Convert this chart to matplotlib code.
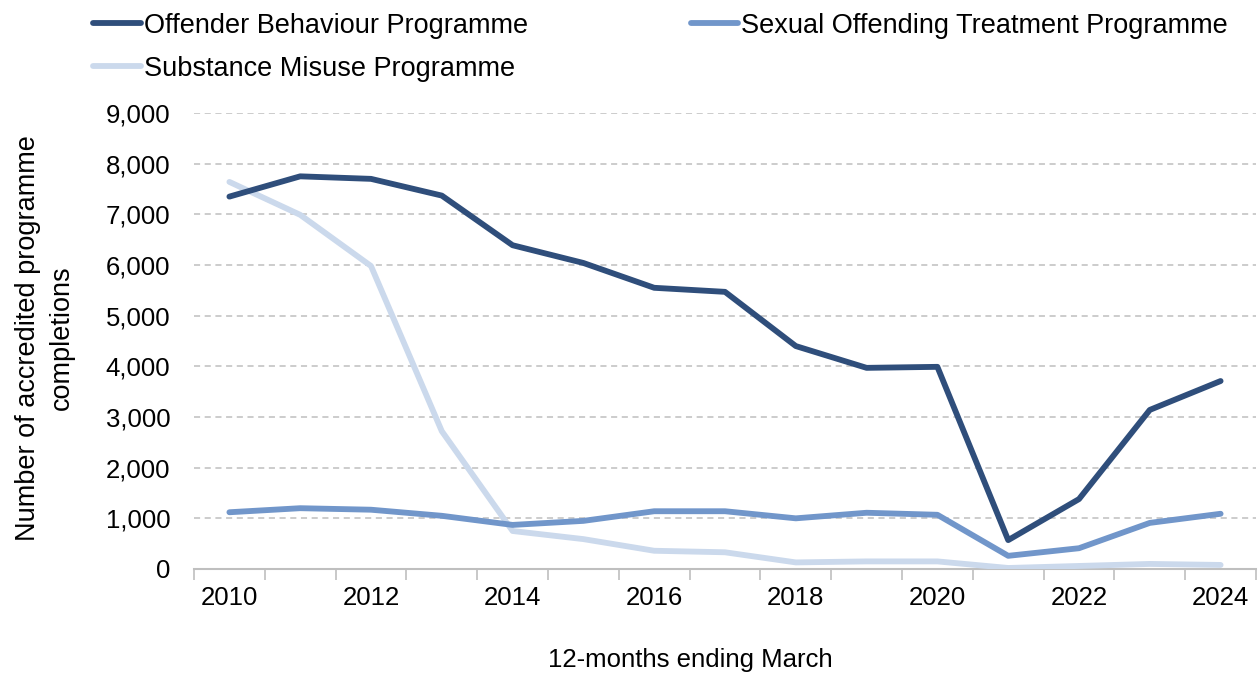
import numpy as np
import matplotlib.pyplot as plt
from matplotlib.ticker import FuncFormatter

plt.rcParams["font.family"] = ["Liberation Sans", "DejaVu Sans"]

years = list(range(2010, 2025))
offender = [7350, 7750, 7700, 7370, 6390, 6040, 5550, 5470, 4400, 3970, 3990, 570, 1380, 3140, 3710]
sexual = [1120, 1200, 1170, 1050, 870, 950, 1140, 1140, 1000, 1110, 1070, 260, 410, 910, 1090]
substance = [7640, 6990, 5980, 2720, 750, 590, 360, 330, 130, 150, 150, 20, 60, 100, 80]

dark = "#2F4E7B"
mid = "#7196CA"
light = "#CBD9EC"
FS = 18.5

fig = plt.figure(figsize=(12.58, 6.77), dpi=100)
ax = fig.add_axes([194 / 1258, 1 - 569 / 677, (1256 - 194) / 1258, (569 - 113) / 677])

l_off, = ax.plot(years, offender, color=dark, lw=4.2, solid_capstyle="round",
                 label="Offender Behaviour Programme", zorder=4)
l_sex, = ax.plot(years, sexual, color=mid, lw=4.2, solid_capstyle="round",
                 label="Sexual Offending Treatment Programme", zorder=3)
l_sub, = ax.plot(years, substance, color=light, lw=4.2, solid_capstyle="round",
                 label="Substance Misuse Programme", zorder=2)

ax.set_xlim(2009.5, 2024.5)
ax.set_ylim(0, 9000)
ax.set_yticks(np.arange(0, 9001, 1000))
ax.yaxis.set_major_formatter(FuncFormatter(lambda v, p: f"{int(v):,}"))
ax.set_xticks(years[::2])
ax.set_xticks(np.arange(2009.5, 2025, 1), minor=True)
ax.tick_params(axis="x", which="major", length=0, labelsize=FS, pad=12)
ax.tick_params(axis="x", which="minor", length=8, color="#BFBFBF", width=1.2)
ax.tick_params(axis="y", length=0, labelsize=FS, pad=17)

ax.grid(axis="y", color="#BFBFBF", linestyle=(0, (4, 3)), lw=1.1)
ax.set_axisbelow(True)
for s in ["top", "right", "left"]:
    ax.spines[s].set_visible(False)
ax.spines["bottom"].set_color("#BFBFBF")
ax.spines["bottom"].set_linewidth(1.5)
ax.spines["bottom"].set_zorder(1)

fig.text(45 / 1258, 1 - 338 / 677, "Number of accredited programme\ncompletions",
         rotation=90, ha="center", va="center", fontsize=19.5, linespacing=1.4)
fig.text(690 / 1258, 1 - 660 / 677, "12-months ending March", ha="center", va="center", fontsize=FS)

fig.legend([l_off, l_sub, l_sex],
           [l_off.get_label(), l_sub.get_label(), l_sex.get_label()],
           ncol=2, loc="upper left", bbox_to_anchor=(69 / 1258, 1.017), frameon=False,
           fontsize=19.5, handlelength=1.75, handletextpad=0.12, columnspacing=6.0,
           labelspacing=0.62)

fig.savefig("out.png", dpi=100)
